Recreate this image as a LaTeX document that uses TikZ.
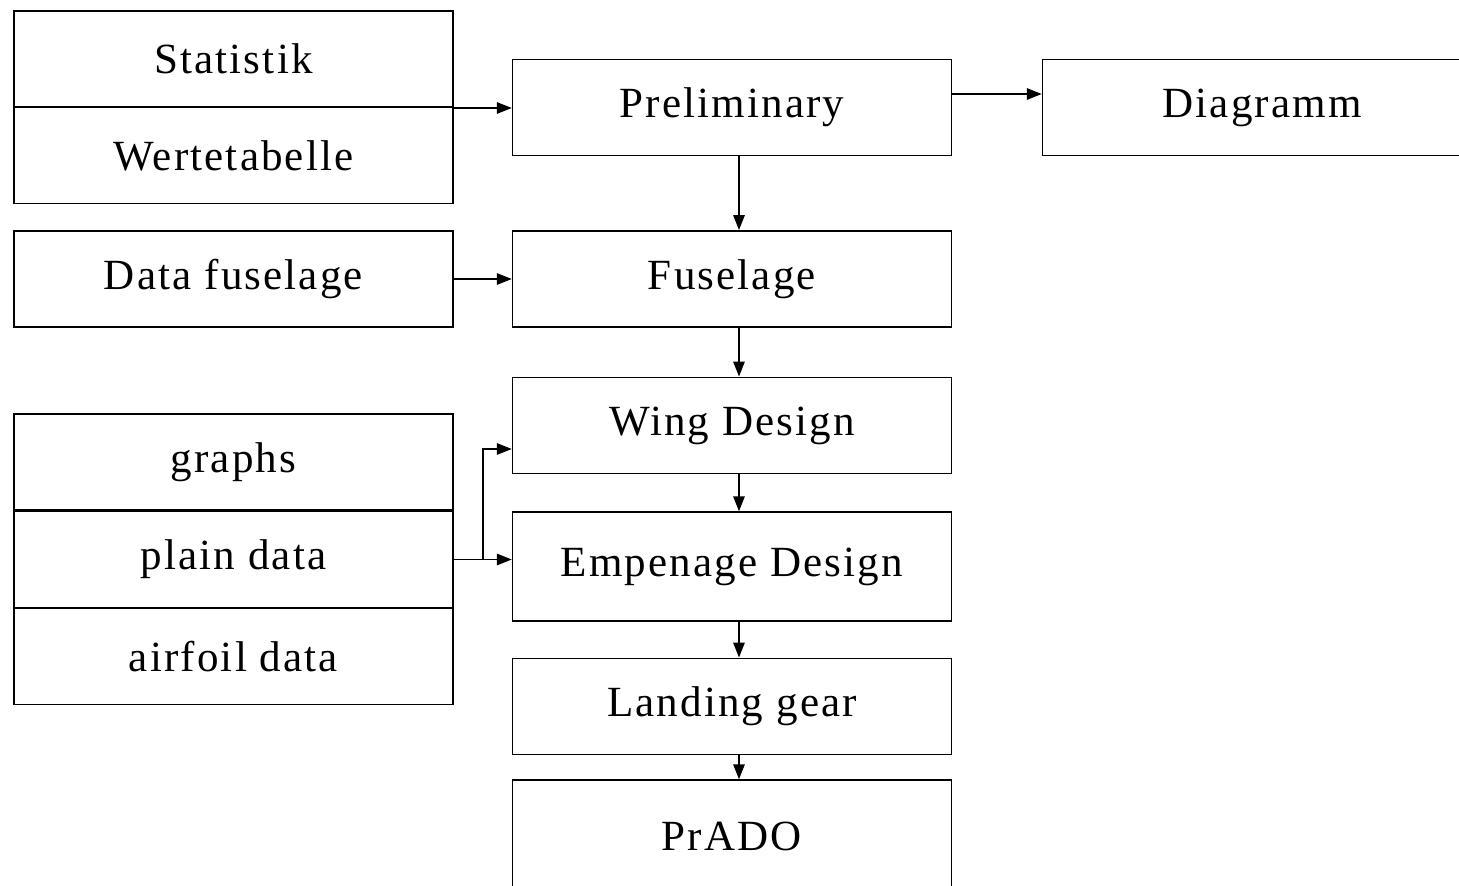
\documentclass[tikz,border=0pt]{standalone}
\usepackage{fontspec}
\setmainfont{Liberation Serif}
\newfontfamily\boxfont[LetterSpace=5]{Liberation Serif}
\usetikzlibrary{arrows.meta}
\usetikzlibrary{positioning}
\tikzset{
    >={Triangle[length=0.3cm,width=0.23cm]},
    cell/.style={draw=black, line width=0.85pt, minimum width=8.78cm,
        minimum height=1.93cm, inner sep=0pt,
        font=\boxfont\fontsize{24.5}{29}\selectfont},
    flow/.style={draw=black, line width=0.85pt, ->},
}

\begin{document}
\begin{tikzpicture}[x=0.02cm, y=-0.02cm]
\path[use as bounding box, clip] (0,0) rectangle (1459,885);
\fill[white] (0,0) rectangle (1459,885);
% left column
\node[cell] (stat) at (233.5,59) {Statistik};
\node[cell] (wert) at (233.5,155.5) {Wertetabelle};
\node[cell] (datafus) at (233.5,279) {Data fuselage};
\node[cell] (graphs) at (233.5,462) {graphs};
\node[cell] (plain) at (233.5,559.5) {plain data};
\node[cell] (airfoil) at (233.5,656.5) {airfoil data};
\draw[line width=1.6pt] (graphs.south west) -- (graphs.south east);
% main column
\node[cell] (prelim) at (732,107.5) {Preliminary};
\node[cell] (fus) at (732,279) {Fuselage};
\node[cell] (wing) at (732,425.5) {Wing Design};
\node[cell, minimum height=2.18cm] (emp) at (732,566.5) {Empenage Design};
\node[cell] (land) at (732,706.5) {Landing gear};
\node[cell, minimum height=2.24cm] (prado) at (732,836) {PrADO};
\node[cell] (diag) at (1262,107.5) {Diagramm};
% connectors
\coordinate (vx) at (739,0);
\coordinate (dy) at (0,94);
\coordinate (bx) at (483,449);
\draw[flow] (stat.south east) -- (stat.south east -| prelim.west);
\draw[flow] (prelim.east |- dy) -- (diag.west |- dy);
\draw[flow] (datafus.east) -- (fus.west);
\draw[flow] (prelim.south -| vx) -- (fus.north -| vx);
\draw[flow] (fus.south -| vx) -- (wing.north -| vx);
\draw[flow] (wing.south -| vx) -- (emp.north -| vx);
\draw[flow] (emp.south -| vx) -- (land.north -| vx);
\draw[flow] (land.south -| vx) -- (prado.north -| vx);
\draw[flow] (plain.east) -- (plain.east -| emp.west);
\draw[flow] (plain.east -| bx) -- (bx) -- (bx -| wing.west);
\end{tikzpicture}
\end{document}
